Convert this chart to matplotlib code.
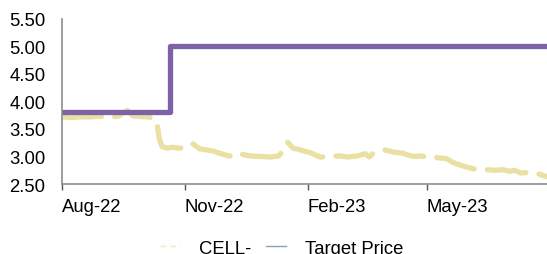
import numpy as np
import pandas as pd
import matplotlib
matplotlib.use('Agg')
import matplotlib.pyplot as plt
import matplotlib.dates as mdates
from matplotlib.lines import Line2D

plt.rcParams['font.family'] = ['Liberation Sans', 'DejaVu Sans']

# Share price (CELL-)
price_dates = ['2022-08-01', '2022-08-08', '2022-08-15', '2022-08-22', '2022-08-29',
               '2022-09-05', '2022-09-12', '2022-09-19', '2022-09-23', '2022-09-28',
               '2022-10-04', '2022-10-08', '2022-10-11', '2022-10-13', '2022-10-15',
               '2022-10-19', '2022-10-22', '2022-10-28', '2022-11-02', '2022-11-07',
               '2022-11-12', '2022-11-17', '2022-11-22', '2022-11-28', '2022-12-04',
               '2022-12-08', '2022-12-12', '2022-12-16', '2022-12-20', '2022-12-28',
               '2023-01-04', '2023-01-10', '2023-01-15', '2023-01-17', '2023-01-21',
               '2023-01-25', '2023-01-29', '2023-02-03', '2023-02-10', '2023-02-17',
               '2023-02-25', '2023-03-03', '2023-03-10', '2023-03-16', '2023-03-19',
               '2023-03-22', '2023-03-27', '2023-03-31', '2023-04-06', '2023-04-13',
               '2023-04-18', '2023-04-22', '2023-04-27', '2023-05-01', '2023-05-08',
               '2023-05-16', '2023-05-20', '2023-05-24', '2023-06-01', '2023-06-06',
               '2023-06-14', '2023-06-21', '2023-06-27', '2023-07-02', '2023-07-06',
               '2023-07-10', '2023-07-17', '2023-07-24', '2023-07-30']
price_vals = [3.72, 3.71, 3.72, 3.72, 3.73,
              3.72, 3.73, 3.84, 3.74, 3.73,
              3.72, 3.70, 3.62, 3.30, 3.18,
              3.15, 3.17, 3.15, 3.17, 3.23,
              3.14, 3.12, 3.10, 3.05, 3.01,
              3.00, 3.05, 3.03, 3.01, 3.00,
              2.99, 3.01, 3.14, 3.26, 3.15,
              3.13, 3.10, 3.07, 2.99, 3.00,
              3.01, 2.99, 3.01, 3.05, 2.99,
              3.06, 3.07, 3.12, 3.08, 3.06,
              3.02, 3.00, 3.01, 2.99, 2.98,
              2.96, 2.90, 2.86, 2.80, 2.77,
              2.76, 2.75, 2.76, 2.73, 2.75,
              2.70, 2.71, 2.68, 2.63]

# Target price
target_dates = ['2022-08-01', '2022-10-21', '2023-07-30']
target_vals = [3.8, 5.0, 5.0]

xticks = ['2022-08-01', '2022-11-01', '2023-02-01', '2023-05-01']

fig = plt.figure(figsize=(5.47, 2.55), dpi=100)
ax = fig.add_axes([0.1133, 0.2745, 0.8867, 0.6471])

ax.plot(pd.to_datetime(price_dates), price_vals, color='#EAE0A2', lw=3.8,
        dashes=(7.5, 2.5), solid_capstyle='round', dash_capstyle='round')
ax.plot(pd.to_datetime(target_dates), target_vals, color='#7D62A8', lw=3.8,
        drawstyle='steps-post')

ax.set_xlim(pd.Timestamp('2022-08-01'), pd.Timestamp('2023-07-30'))
ax.set_ylim(2.5, 5.5)
ax.set_yticks(np.arange(2.5, 5.51, 0.5))
ax.yaxis.set_major_formatter(matplotlib.ticker.FormatStrFormatter('%.2f'))
ax.set_xticks(pd.to_datetime(xticks))
ax.xaxis.set_major_formatter(mdates.DateFormatter('%b-%y'))
for lbl in ax.get_xticklabels():
    lbl.set_horizontalalignment('left')

for s in ['top', 'right']:
    ax.spines[s].set_visible(False)
for s in ['left', 'bottom']:
    ax.spines[s].set_color('#8c8c8c')
    ax.spines[s].set_linewidth(1.2)

ax.tick_params(axis='y', length=0, pad=12, labelsize=13.3, colors='black')
ax.tick_params(axis='x', length=4, width=1, color='#555555', pad=6, labelsize=13.3)

handles = [Line2D([], [], color='#EDE6BE', lw=1, dashes=(4, 3)),
           Line2D([], [], color='#7FA8BE', lw=1)]
fig.legend(handles, ['CELL-', 'Target Price'], loc='center', bbox_to_anchor=(0.515, 0.022),
           ncol=2, frameon=False, fontsize=13.3, handlelength=1.1,
           handletextpad=1.0, columnspacing=0.8)

fig.savefig('out.png', dpi=100)
